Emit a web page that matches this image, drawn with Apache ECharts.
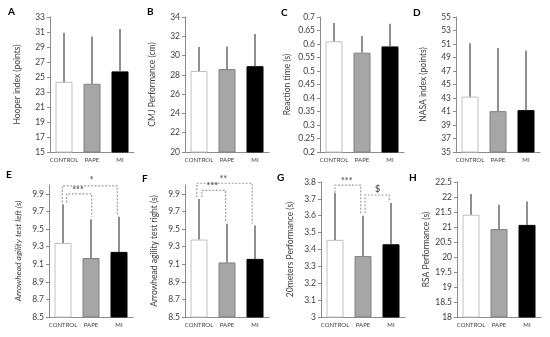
<!DOCTYPE html>
<html><head><meta charset="utf-8">
<script src="https://cdn.jsdelivr.net/npm/echarts@6/dist/echarts.min.js"></script>
<style>html,body{margin:0;padding:0;background:#fff}#c{width:550px;height:337px}</style>
</head><body><div id="c"></div>
<script>
// ---------- DATA ----------
const categories = ['CONTROL', 'PAPE', 'MI'];

const hooperMean = [24.35, 24.1, 25.75];
const hooperSD   = [6.55, 6.3, 5.65];
const cmjMean    = [28.4, 28.6, 28.9];
const cmjSD      = [2.5, 2.35, 3.35];
const reactMean  = [0.61, 0.568, 0.591];
const reactSD    = [0.068, 0.062, 0.084];
const nasaMean   = [43.2, 41.05, 41.2];
const nasaSD     = [7.9, 9.35, 8.85];
const arrowLeftMean  = [9.34, 9.17, 9.24];
const arrowLeftSD    = [0.44, 0.44, 0.40];
const arrowRightMean = [9.38, 9.12, 9.16];
const arrowRightSD   = [0.46, 0.44, 0.38];
const m20Mean    = [3.457, 3.361, 3.431];
const m20SD      = [0.278, 0.239, 0.244];
const rsaMean    = [21.41, 20.93, 21.07];
const rsaSD      = [0.69, 0.81, 0.78];

const panelLetters = ['A', 'B', 'C', 'D', 'E', 'F', 'G', 'H'];
const axisNames = ['Hooper index (points)', 'CMJ Performance (cm)', 'Reaction time (s)', 'NASA index (points)',
  'Arrowhead agility test left (s)', 'Arrowhead agility test right (s)', '20meters Performance (s)', 'RSA Performance (s)'];
const axisMin = [15, 20, 0.2, 35, 8.5, 8.5, 3, 18];
const axisMax = [33, 34, 0.7, 55, 10, 10, 3.8, 22.5];
const axisInterval = [2, 2, 0.05, 2, 0.2, 0.2, 0.1, 0.5];

// significance brackets (x in category band units: 0..3, centres at 0.5/1.5/2.5)
const bracketE1 = [[0.475, 9.8], [0.475, 9.99], [2.44, 9.99], [2.44, 9.66]];
const bracketE2 = [[0.63, 9.8], [0.63, 9.9], [1.525, 9.9], [1.525, 9.64]];
const bracketF1 = [[0.42, 9.86], [0.42, 10.02], [2.40, 10.02], [2.40, 9.56]];
const bracketF2 = [[0.6, 9.86], [0.6, 9.94], [1.45, 9.94], [1.45, 9.58]];
const bracketG1 = [[0.5, 3.737], [0.5, 3.782], [1.42, 3.782], [1.42, 3.604]];
const bracketG2 = [[1.57, 3.615], [1.57, 3.723], [2.44, 3.723], [2.44, 3.683]];
const sigLabelsE = [['*', 1.525, 10.06], ['***', 1.035, 9.94]];
const sigLabelsF = [['**', 1.37, 10.07], ['***', 0.975, 9.99]];
const sigLabelsG = [['***', 0.92, 3.805], ['$', 2.02, 3.76]];

const means = [hooperMean, cmjMean, reactMean, nasaMean, arrowLeftMean, arrowRightMean, m20Mean, rsaMean];
const sds = [hooperSD, cmjSD, reactSD, nasaSD, arrowLeftSD, arrowRightSD, m20SD, rsaSD];
const brackets = [[], [], [], [], [bracketE1, bracketE2], [bracketF1, bracketF2], [bracketG1, bracketG2], []];
const sigLabels = [[], [], [], [], sigLabelsE, sigLabelsF, sigLabelsG, []];

// ---------- LAYOUT / STYLE ----------
const FONT = 'Lato';
const gridLeft = [50, 185, 320, 456, 49, 185, 321, 457];
const gridTop = [17, 17, 17, 17, 185, 185, 182, 182];
const gridH = [135, 135, 135, 135, 132, 132, 135, 135];
const letterPos = [[8, 12], [147, 12], [281, 13], [413, 13], [6, 175], [142, 179], [277, 178], [409, 178]];
const barFill = ['#ffffff', '#a6a6a6', '#000000'];
const barBorder = ['#bfbfbf', '#808080', '#000000'];
const textColor = '#404040';
const axisColor = '#8c8c8c';

const grid = [], xAxis = [], yAxis = [], series = [], graphic = [];
for (let p = 0; p < 8; p++) {
  grid.push({ left: gridLeft[p], top: gridTop[p], width: 84, height: gridH[p] });
  xAxis.push({
    type: 'category', gridIndex: p, data: categories,
    axisLine: { lineStyle: { color: axisColor, width: 1 } },
    axisTick: { show: false },
    axisLabel: { fontFamily: FONT, fontSize: 6, color: textColor, margin: 5, interval: 0 }
  });
  xAxis.push({ type: 'value', gridIndex: p, min: 0, max: 3, show: false });
  yAxis.push({
    type: 'value', gridIndex: p, min: axisMin[p], max: axisMax[p], interval: axisInterval[p],
    name: axisNames[p], nameLocation: 'middle', nameGap: p >= 4 ? 26 : 28,
    nameTextStyle: { fontFamily: FONT, fontSize: 8.5, color: textColor, fontStyle: p === 4 ? 'italic' : 'normal' },
    axisLine: { show: true, lineStyle: { color: axisColor, width: 1 } },
    axisTick: { show: true, length: 3, lineStyle: { color: axisColor } },
    splitLine: { show: false },
    axisLabel: { fontFamily: FONT, fontSize: 8.5, color: textColor, margin: 5, showMaxLabel: !(p === 4 || p === 5) }
  });
  const mean = means[p], sd = sds[p];
  series.push({
    type: 'bar', xAxisIndex: 2 * p, yAxisIndex: p, barWidth: 17,
    data: mean.map((v, i) => ({ value: v, itemStyle: { color: barFill[i], borderColor: barBorder[i], borderWidth: 1 } })),
    silent: true, z: 2
  });
  series.push({
    type: 'custom', xAxisIndex: 2 * p, yAxisIndex: p, z: 3, silent: true,
    data: mean.map((v, i) => [i, v, v + sd[i]]),
    renderItem: function (params, api) {
      const a = api.coord([api.value(0), api.value(1)]);
      const b = api.coord([api.value(0), api.value(2)]);
      return { type: 'line', shape: { x1: a[0], y1: a[1], x2: b[0], y2: b[1] }, style: { stroke: '#6a6a6a', lineWidth: 1.5 } };
    }
  });
  brackets[p].forEach(br => {
    series.push({
      type: 'line', xAxisIndex: 2 * p + 1, yAxisIndex: p, data: br, symbol: 'none', clip: false, silent: true, z: 4,
      lineStyle: { color: '#a0a0a0', width: 1.2, type: [2, 1.5] }
    });
  });
  if (sigLabels[p].length) {
    series.push({
      type: 'scatter', xAxisIndex: 2 * p + 1, yAxisIndex: p, symbolSize: 0, clip: false, silent: true, z: 5,
      data: sigLabels[p].map(s => ({ value: [s[1], s[2]], label: { formatter: s[0] } })),
      label: { show: true, position: 'inside', fontFamily: FONT, fontSize: 9, color: '#333333', fontWeight: 'bold' }
    });
  }
  graphic.push({
    type: 'text', left: letterPos[p][0], top: letterPos[p][1] - 5,
    style: { text: panelLetters[p], font: 'bold 10px ' + FONT, fill: '#000' }
  });
}

const chart = echarts.init(document.getElementById('c'), null, { renderer: 'canvas' });
chart.setOption({ animation: false, grid, xAxis, yAxis, series, graphic });
</script></body></html>
